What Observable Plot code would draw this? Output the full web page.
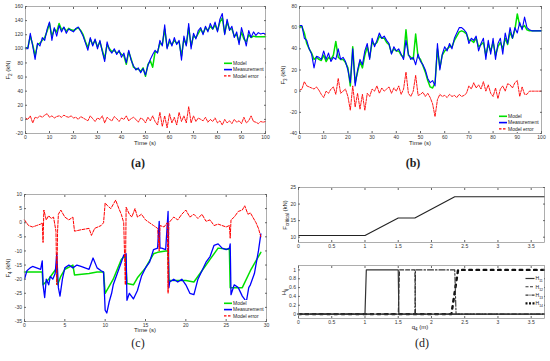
<!DOCTYPE html>
<html><head><meta charset="utf-8">
<script src="https://cdn.jsdelivr.net/npm/d3@7"></script>
<script src="https://cdn.jsdelivr.net/npm/@observablehq/plot@0.6"></script>
<style>
body{margin:0;background:#fff;}
#root{position:relative;width:550px;height:361px;overflow:hidden;font-family:"Liberation Sans",Arial,sans-serif;color:#222;}
.cap{position:absolute;font-family:"Liberation Serif","DejaVu Serif",serif;font-size:12px;transform:translate(-50%,-50%);white-space:nowrap;}
.lab{position:absolute;font-size:6px;line-height:6px;transform:translate(-50%,-50%);white-space:nowrap;}
.ylab{position:absolute;font-size:6px;line-height:6px;transform:translate(-50%,-50%) rotate(-90deg);white-space:nowrap;}
sub{font-size:4.5px;line-height:0;}
</style>
</head><body><div id="root"></div>
<script>
// ---------- Panel (a) ----------
const aMeas = [102,100,122,104,85,108,104,116,112,128,138,112,130,118,133,124,131,122,128,126,124,129,131,125,118,108,98,116,104,114,100,112,96,82,110,98,94,100,92,98,88,94,80,98,84,76,70,73,66,72,63,76,85,92,98,94,112,104,134,100,114,104,116,106,112,84,118,104,136,100,122,114,126,130,120,132,124,136,128,138,124,142,150,120,142,126,132,116,124,106,130,118,104,126,116,124,119,123,121,122,121];
const aModel = [101,102,118,106,90,106,108,112,116,125,136,118,128,124,136,127,130,125,129,127,126,128,130,126,120,110,102,114,106,112,103,110,98,86,106,100,96,98,94,96,92,90,78,96,86,74,72,71,68,73,61,78,83,74,96,95,108,106,128,102,110,106,112,108,110,90,114,106,130,104,118,116,122,128,122,130,126,132,128,134,126,138,144,122,138,128,128,118,120,110,124,114,110,120,116,118,117,117,117,117,117];
const aErr = [2,0,5,-5,3,2,5,3,6,8,3,5,2,4,5,3,6,4,3,5,2,3,0,4,2,0,-2,5,1,-3,2,0,5,-5,3,0,-2,4,1,-3,2,0,5,-2,1,3,0,-4,2,0,-5,3,-2,5,-3,-8,10,-10,5,-12,8,-5,3,-8,10,-3,5,-5,18,-5,5,-3,2,0,-2,3,-4,0,-3,2,-5,-2,-8,0,-5,-2,-6,0,-4,-2,-6,3,-5,-2,5,-3,-4,-6,-3,-4,-3];
const aTime = d3.range(0, 101);

// ---------- Panel (b) ----------
const bMeas = [62,62,50,48,40,35,22,33,32,30,38,30,36,28,32,30,40,30,32,28,20,8,40,5,20,30,25,38,45,30,50,42,48,55,50,52,48,45,35,42,38,40,35,30,48,35,30,32,25,35,28,25,20,12,8,10,5,45,20,35,42,38,45,40,50,55,60,60,58,55,45,50,48,52,38,45,50,30,48,35,50,30,45,50,35,55,45,60,50,60,55,65,58,70,60,58,57,57,57,57,57];
const bModel = [61,61,55,45,40,36,30,32,30,29,34,28,32,30,34,47,32,30,30,27,22,5,42,8,18,28,22,34,42,32,46,44,46,52,50,50,46,44,36,40,38,38,34,32,58,34,32,30,54,32,30,24,18,10,4,3,8,40,22,34,38,40,42,42,48,52,56,57,56,54,48,48,46,50,42,44,46,34,44,38,46,34,42,46,40,50,44,56,50,58,73,62,60,62,58,57,57,57,57,57,57];
const bErr = [1,2,9,5,4,3,2,4,1,-3,-6,0,-2,2,4,-3,12,-2,0,2,-5,-18,5,-15,-2,-17,-3,-18,-2,-5,2,0,5,-2,3,0,2,4,-2,3,0,5,-3,2,18,-2,-5,0,15,-4,-3,-1,-5,-2,-6,-12,-24,-8,-3,-5,-4,-6,-3,-5,-4,-6,-3,-5,-4,-2,5,2,8,3,6,2,9,0,6,-2,-5,3,-7,2,5,0,7,6,3,8,10,-5,4,-3,-3,0,0,0,0,0,0];
const bTime = d3.range(0, 101);

// ---------- Panel (c) : [time, value] ----------
const cMeas = [[0,-20],[0.3,-17],[0.7,-16],[1,-15.5],[1.5,-16],[2,-16.5],[2.2,-13.5],[2.3,-22],[2.5,-26.5],[2.7,-20],[3,-22],[3.2,-19],[3.5,-20],[3.8,-18],[4.0,-11],[4.2,-23],[4.4,-26],[4.7,-20],[5,-16],[5.5,-15],[6,-16],[6.5,-15],[7,-15.5],[7.5,-16],[8,-16.5],[8.5,-12.5],[9,-16],[9.5,-17],[9.8,-17.5],[10,-31],[10.2,-32],[10.5,-28],[10.8,-25],[11,-22],[11.5,-18],[12,-14],[12.3,-11.5],[12.6,-11],[12.7,-27.5],[13,-25],[13.5,-27],[14,-24],[14.5,-19],[15,-16],[15.5,-14],[16,-9.5],[16.5,-9],[16.7,0.5],[16.8,-9],[17,-9],[17.5,-9.5],[17.8,4],[17.9,-23],[18,-21],[18.5,-20],[19,-21],[19.5,-20],[20,-22],[20.5,-25],[21,-25.5],[21.5,-20],[22,-17],[22.5,-14],[23,-12],[23.5,-8],[24,-7.5],[24.5,-9],[25,-9.5],[25.4,-9],[25.5,-7.5],[25.6,-25.5],[26,-22],[26.5,-23],[27,-26],[27.5,-28],[27.8,-23],[28,-22],[28.5,-18],[29,-10],[29.3,-4]];
const cModel = [[0,-17.5],[2.2,-17.5],[2.3,-22],[3,-20],[3.5,-18],[4,-16],[4.1,-22],[4.5,-19],[5,-16.5],[6,-15],[6.2,-18.5],[8,-18],[9,-17.5],[9.8,-17.5],[10,-25],[11,-20],[12,-13],[12.5,-11.5],[12.7,-21.5],[13.5,-22],[14,-19.5],[15,-16],[16,-11],[16.5,-10.5],[17.5,-10],[17.8,-10],[17.9,-20.5],[20,-20.5],[21,-21],[22,-17],[23,-13],[24,-9],[25.4,-9.5],[25.5,-23],[27,-23],[28,-17],[29.3,-10.5]];
const cErr = [[0,1],[0.5,-1],[1,-1.5],[1.5,-1],[2,-0.5],[2.2,0],[2.3,-7],[2.4,4.5],[2.7,1],[3,2.5],[3.3,1.5],[3.6,2],[3.9,-3],[4.0,-22],[4.1,-3],[4.2,3],[4.5,4.5],[5,2],[5.5,1],[6,2],[6.2,-3],[7,-2.5],[8,-2],[8.3,-4.5],[8.7,-2],[9.5,-1],[9.8,0],[10,7],[10.3,6],[10.7,5],[11,6.5],[11.3,8],[11.7,5],[12,3],[12.3,0],[12.5,-22],[12.6,5.5],[13,3],[13.3,2],[13.7,5],[14,2],[14.5,3],[15,1],[15.5,0],[16,-1],[16.5,-2],[16.7,-10],[16.8,-1],[17.3,-1.5],[17.7,0],[17.8,-25],[17.9,0],[18.2,1],[18.5,2],[19,1],[19.5,3],[20,4.5],[20.5,2],[21,3],[21.5,1.5],[22,3],[22.5,0.5],[23,1],[23.5,-1],[24,-0.5],[24.5,-1],[25,-1.5],[25.4,-1],[25.5,-5.5],[25.6,1],[26,2],[26.5,4],[27,4.5],[27.3,6],[27.7,3],[28,3.5],[28.3,2],[28.7,0],[29,-2],[29.3,-5]];

// ---------- Panel (d) ----------
const dCrit = [[0,10.5],[1,10.5],[1.5,15.8],[1.75,15.8],[2.35,22.2],[3.7,22.2]];
const dH11 = [[0,0],[1,0],[1.02,1],[1.5,1],[1.51,0],[3.7,0]];
const dH12 = [[0,0],[1.5,0],[1.52,1],[1.75,1],[1.76,0],[3.7,0]];
const dH13 = [[0,0],[1.75,0],[1.76,1],[2.35,1],[2.37,0],[3.7,0]];
const dH14 = [[0,0],[2.3,0],[2.4,1],[3.7,1]];

// tick values
const ticksTime100 = d3.range(0, 101, 10);
const ticksA = [-20,0,20,40,60,80,100,120,140,160];
const ticksB = [-40,-20,0,20,40,60,80];
const ticksTime30 = [0,5,10,15,20,25,30];
const ticksC = [-35,-30,-25,-20,-15,-10,-5,0,5,10];
const ticksQ = [0,0.5,1,1.5,2,2.5,3,3.5];
const ticksCrit = [10,15,20,25];
const ticksH = [0,0.2,0.4,0.6,0.8,1];

const GREEN = "#00e000", BLUE = "#0000ff", RED = "#ff0000";
const root = document.getElementById("root");
const FONT = "'Liberation Sans', Arial, sans-serif";
const fmt = d => String(d);

function panel(o) {
  const svg = Plot.plot({
    width: o.w, height: o.h,
    marginLeft: o.ml, marginRight: o.mr, marginTop: o.mt, marginBottom: o.mb,
    style: {fontSize: "5px", fontFamily: FONT, color: "#333", background: "none", overflow: "visible"},
    x: {domain: o.xd}, y: {domain: o.yd},
    marks: [
      ...o.marks,
      Plot.frame({stroke: "#8a8a8a", strokeWidth: 0.7}),
      Plot.axisX(o.xt, {anchor: "bottom", tickSize: -2, tickPadding: 4, tickFormat: fmt, label: null, stroke: "#666"}),
      Plot.axisX(o.xt, {anchor: "top", tickSize: -2, tickFormat: () => "", label: null, stroke: "#666"}),
      Plot.axisY(o.yt, {anchor: "left", tickSize: -2, tickPadding: 4.5, tickFormat: fmt, label: null, stroke: "#666"}),
      Plot.axisY(o.yt, {anchor: "right", tickSize: -2, tickFormat: () => "", label: null, stroke: "#666"})
    ]
  });
  svg.style.position = "absolute";
  svg.style.left = o.left + "px";
  svg.style.top = o.top + "px";
  root.appendChild(svg);
}

function html(cls, x, y, content) {
  const d = document.createElement("div");
  d.className = cls;
  d.style.left = x + "px";
  d.style.top = y + "px";
  d.innerHTML = content;
  root.appendChild(d);
}

function legend(x, y, w, h, items, y0, dy, lx0, lx1, tx) {
  const svg = d3.create("svg").attr("width", w).attr("height", h)
    .style("position", "absolute").style("left", x + "px").style("top", y + "px");
  svg.append("rect").attr("width", w).attr("height", h).attr("fill", "#fff");
  items.forEach((it, i) => {
    const yy = y0 + i * dy;
    svg.append("line").attr("x1", lx0).attr("x2", lx1).attr("y1", yy).attr("y2", yy)
      .attr("stroke", it.color).attr("stroke-width", it.width || 1.2)
      .attr("stroke-dasharray", it.dash || null);
    svg.append("text").attr("x", tx).attr("y", yy).attr("dy", "0.35em")
      .attr("font-size", it.fs || 5).attr("font-family", FONT).attr("fill", "#222")
      .html(it.label);
  });
  root.appendChild(svg.node());
}

const stdItems = [
  {label: "Model", color: GREEN, width: 1.6},
  {label: "Measurement", color: BLUE, width: 1.6},
  {label: "Model error", color: RED, width: 1.2, dash: "2.5,1.5"}
];

// (a)
panel({left: 0, top: 0, w: 275, h: 150, ml: 25, mr: 10, mt: 6, mb: 17,
  xd: [0, 100], yd: [-20, 160], xt: ticksTime100, yt: ticksA,
  marks: [
    Plot.line(aModel, {x: aTime, y: aModel, stroke: GREEN, strokeWidth: 1.5}),
    Plot.line(aMeas, {x: aTime, y: aMeas, stroke: BLUE, strokeWidth: 1.1}),
    Plot.line(aErr, {x: aTime, y: aErr, stroke: RED, strokeWidth: 0.9, strokeDasharray: "2.5,1.2"})
  ]});
html("lab", 145, 143, "Time (s)");
html("ylab", 8, 70, "F<sub>2</sub> (kN)");
html("cap", 138, 163, "<b>(a)</b>");
legend(222, 60, 43, 19, stdItems, 3.3, 6.3, 2, 10, 11);

// (b)
panel({left: 275, top: 0, w: 275, h: 150, ml: 24, mr: 9, mt: 6, mb: 17,
  xd: [0, 100], yd: [-40, 80], xt: ticksTime100, yt: ticksB,
  marks: [
    Plot.line(bModel, {x: bTime, y: bModel, stroke: GREEN, strokeWidth: 1.5}),
    Plot.line(bMeas, {x: bTime, y: bMeas, stroke: BLUE, strokeWidth: 1.1}),
    Plot.line(bErr, {x: bTime, y: bErr, stroke: RED, strokeWidth: 0.9, strokeDasharray: "2.5,1.2"})
  ]});
html("lab", 420, 143, "Time (s)");
html("ylab", 283, 75, "F<sub>3</sub> (kN)");
html("cap", 413, 163, "<b>(b)</b>");
legend(497, 113, 43, 19, stdItems, 3.3, 6.3, 2, 10, 11);

// (c)
panel({left: 0, top: 170, w: 275, h: 170, ml: 24, mr: 9, mt: 24, mb: 19,
  xd: [0, 30], yd: [-35, 10], xt: ticksTime30, yt: ticksC,
  marks: [
    Plot.line(cModel, {x: d => d[0], y: d => d[1], stroke: GREEN, strokeWidth: 1.5}),
    Plot.line(cMeas, {x: d => d[0], y: d => d[1], stroke: BLUE, strokeWidth: 1.3}),
    Plot.line(cErr, {x: d => d[0], y: d => d[1], stroke: RED, strokeWidth: 1, strokeDasharray: "3,1.5"})
  ]});
html("lab", 145, 330, "Time (s)");
html("ylab", 8, 268, "F<sub>4</sub> (kN)");
html("cap", 138, 343, "(c)");
legend(222, 300, 43, 19, stdItems, 3.3, 6.3, 2, 10, 11);

// (d) top
panel({left: 275, top: 180, w: 275, h: 72, ml: 23, mr: 6, mt: 7, mb: 10,
  xd: [0, 3.7], yd: [8.4, 25], xt: ticksQ, yt: ticksCrit,
  marks: [
    Plot.line(dCrit, {x: d => d[0], y: d => d[1], stroke: "#222", strokeWidth: 1.1})
  ]});
html("ylab", 285, 215, "F<sub>critical</sub> (kN)");

// (d) bottom
panel({left: 275, top: 255, w: 275, h: 75, ml: 23, mr: 6, mt: 10, mb: 12,
  xd: [0, 3.7], yd: [-0.1, 1.1], xt: ticksQ, yt: ticksH,
  marks: [
    Plot.line(dH14, {x: d => d[0], y: d => d[1], stroke: "#111", strokeWidth: 2.4, strokeDasharray: "2.6,4.6"}),
    Plot.line(dH13, {x: d => d[0], y: d => d[1], stroke: "#333", strokeWidth: 1.1, strokeDasharray: "6,2,1.5,2"}),
    Plot.line(dH12, {x: d => d[0], y: d => d[1], stroke: "#333", strokeWidth: 1.1, strokeDasharray: "4,2"}),
    Plot.line(dH11, {x: d => d[0], y: d => d[1], stroke: "#333", strokeWidth: 1.2})
  ]});
html("ylab", 284, 292, "H<sub>ij</sub>");
html("lab", 420, 327, "q<sub>4</sub> (m)");
html("cap", 422, 343, "(d)");
legend(524, 274, 20, 34, [
  {label: 'H<tspan baseline-shift="sub" font-size="3.5">11</tspan>', color: "#333", width: 1.2, fs: 5},
  {label: 'H<tspan baseline-shift="sub" font-size="3.5">12</tspan>', color: "#333", width: 1.1, dash: "3,1.5", fs: 5},
  {label: 'H<tspan baseline-shift="sub" font-size="3.5">13</tspan>', color: "#333", width: 1.1, dash: "3,1,1,1", fs: 5},
  {label: 'H<tspan baseline-shift="sub" font-size="3.5">14</tspan>', color: "#111", width: 2.4, dash: "2,1.5", fs: 5}
], 4.5, 8.3, 1.5, 10.5, 11.5);
</script>
</body></html>
